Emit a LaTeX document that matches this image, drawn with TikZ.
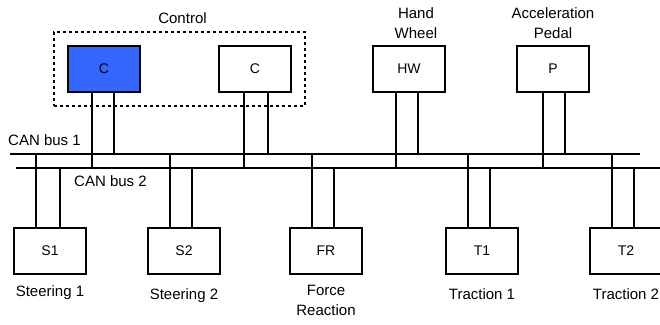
\documentclass[tikz,border=0pt]{standalone}
\usepackage{fontspec}
\setmainfont{Liberation Sans}
\usepackage{tikz}
\usetikzlibrary{positioning,fit}
\definecolor{ctrlblue}{RGB}{51,102,255}
\tikzstyle{ecu}=[draw,line width=1.3pt,minimum width=72pt,minimum height=46pt,inner sep=0pt,outer sep=0pt,font=\fontsize{14}{16}\selectfont]
\tikzstyle{wire}=[line width=1.3pt]
\tikzstyle{caption}=[font=\fontsize{15}{20}\selectfont,align=center,inner sep=0pt]
\tikzstyle{group}=[draw,line width=1.3pt,dash pattern=on 3pt off 3pt,inner sep=14pt]
\newcommand{\ecunode}[3][]{
  \node [ecu, #1] (#2) {#3}
}
\newcommand{\tap}[3]{
  \draw [wire] ([xshift=#2]#1) -- ([xshift=#2]#1 |- #3)
}

\begin{document}
\begin{tikzpicture}[x=1pt,y=-1pt]
        \useasboundingbox (0,0) rectangle (660,324);

        % the two buses
        \coordinate (bus1w) at (10,154);
        \coordinate (bus1e) at (640,154);
        \coordinate (bus2w) at (16,168);
        \coordinate (bus2e) at (662,168);
        \draw[wire] (bus1w) -- (bus1e);
        \draw[wire] (bus2w) -- (bus2e);
        \node[caption, above right=8pt and -2pt of bus1w] (bus1lbl) {CAN bus 1};
        \node[caption, below right=7pt and 58pt of bus2w] (bus2lbl) {CAN bus 2};

        % upper row
        \ecunode[fill=ctrlblue, at={(104,69)}]{ctrl1}{C};
        \ecunode[right=79pt of ctrl1]{ctrl2}{C};
        \ecunode[right=82pt of ctrl2]{hw}{HW};
        \ecunode[right=72pt of hw]{pedal}{P};
        \node[group, fit=(ctrl1) (ctrl2)] (ctrl) {};
        \node[caption, above=8pt of ctrl, xshift=3pt] (ctrllbl) {Control};
        \node[caption, above=7pt of hw, xshift=7pt] (hwlbl) {Hand\\Wheel};
        \node[caption, above=7pt of pedal] (pedallbl) {Acceleration\\Pedal};

            \tap{ctrl1.south}{-12pt}{bus2w};
            \tap{ctrl1.south}{10pt}{bus1w};
            \tap{ctrl2.south}{-11pt}{bus2w};
            \tap{ctrl2.south}{13pt}{bus1w};
            \tap{hw.south}{-13pt}{bus2w};
            \tap{hw.south}{9pt}{bus1w};
            \tap{pedal.south}{-10pt}{bus2w};
            \tap{pedal.south}{12pt}{bus1w};

        % lower row
        \ecunode[at={(50,251)}]{s1}{S1};
        \ecunode[right=62pt of s1]{s2}{S2};
        \ecunode[right=70pt of s2]{fr}{FR};
        \ecunode[right=84pt of fr]{t1}{T1};
        \ecunode[right=72pt of t1]{t2}{T2};
        \node[caption, below=11pt of s1] (s1lbl) {Steering 1};
        \node[caption, below=14pt of s2] (s2lbl) {Steering 2};
        \node[caption, below=11pt of fr] (frlbl) {Force\\Reaction};
        \node[caption, below=14pt of t1] (t1lbl) {Traction 1};
        \node[caption, below=14pt of t2] (t2lbl) {Traction 2};

            \tap{s1.north}{-14pt}{bus1w};
            \tap{s1.north}{10pt}{bus2w};
            \tap{s2.north}{-14pt}{bus1w};
            \tap{s2.north}{8pt}{bus2w};
            \tap{fr.north}{-14pt}{bus1w};
            \tap{fr.north}{8pt}{bus2w};
            \tap{t1.north}{-14pt}{bus1w};
            \tap{t1.north}{8pt}{bus2w};
            \tap{t2.north}{-14pt}{bus1w};
            \tap{t2.north}{8pt}{bus2w};
\end{tikzpicture}
\end{document}
